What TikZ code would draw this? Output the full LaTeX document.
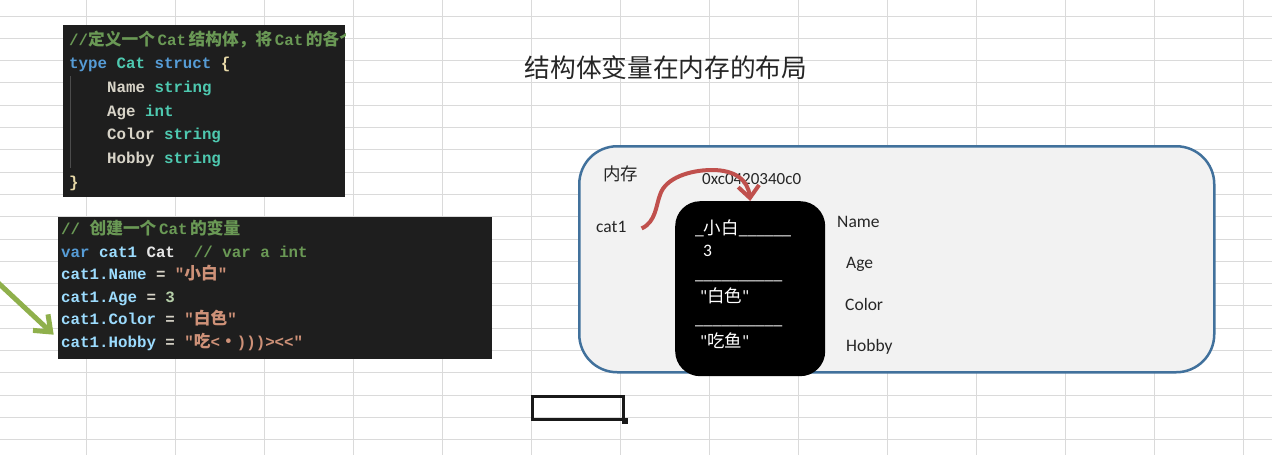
\documentclass[tikz,border=0pt]{standalone}
\usepackage{fontspec}
\setmainfont{Carlito}[Ligatures=TeXOff]
\newfontfamily\cjk{Noto Sans CJK SC}
\newfontfamily\codefont{Liberation Mono}
\usetikzlibrary{arrows.meta,positioning}
\definecolor{gridgray}{HTML}{DADADA}
\definecolor{codebg}{HTML}{1E1E1E}
\definecolor{cmtgreen}{HTML}{6A9955}
\definecolor{kwblue}{HTML}{569CD6}
\definecolor{typeteal}{HTML}{4EC9B0}
\definecolor{fieldwhite}{HTML}{D8D4C8}
\definecolor{bracegold}{HTML}{E8D9A8}
\definecolor{varblue}{HTML}{9CDCFE}
\definecolor{strorange}{HTML}{CE9178}
\definecolor{numgreen}{HTML}{B5CEA8}
\definecolor{memfill}{HTML}{F2F2F2}
\definecolor{memblue}{HTML}{41719C}
\definecolor{ptrred}{HTML}{C0504D}
\definecolor{hintgreen}{HTML}{8FB04C}
\definecolor{textdark}{HTML}{262626}
\newcommand{\zh}[1]{{\cjk #1}}
\newcommand{\zhc}[1]{{\cjk\fontsize{16.7}{19}\selectfont #1}}

\begin{document}
\begin{tikzpicture}[x=1pt,y=-1pt,
    gridline/.style={draw=gridgray,line width=1pt},
    codebox/.style={fill=codebg,inner sep=0pt,anchor=north west},
    codeline/.style={anchor=base west,inner sep=0pt,font=\codefont\bfseries\fontsize{15.8}{19}\selectfont},
    memtext/.style={anchor=base west,inner sep=0pt,text=textdark,font=\fontsize{17.5}{21}\selectfont},
    slottext/.style={anchor=base west,inner sep=0pt,text=white,font=\fontsize{17.5}{21}\selectfont},
    membox/.style={fill=memfill,draw=memblue,line width=2.5pt,rounded corners=38pt,inner sep=0pt,anchor=north west},
    slotbox/.style={fill=black,rounded corners=25pt,inner sep=0pt,anchor=north west},
    ptr/.style={draw=ptrred,line width=4pt,-{Straight Barb[length=12pt,width=21pt]}},
    hint/.style={draw=hintgreen,line width=5pt,-{Straight Barb[length=14pt,width=22pt]}},
    >=Latex]
    \fill[white] (0,0) rectangle (1272,455);
    \useasboundingbox (0,0) rectangle (1272,455);
    \foreach \i in {0,...,13} \draw[gridline] ({86+89*\i},0) -- ({86+89*\i},455);
    \foreach \j in {0,...,19} \draw[gridline] (0,{16+22.3*\j}) -- (1272,{16+22.3*\j});

    % 结构体定义
    \node[codebox,minimum width=282pt,minimum height=172pt] (code1) at (63,25) {};
    \draw[draw=black!70,line width=1pt] (70,76) -- (70,168);
    \begin{scope}
      \clip (63,25) rectangle (345,197);
      \node[codeline,text=cmtgreen] (d1) at (69,45) {//\zhc{定义一个}\,Cat\,\zhc{结构体，将}\,Cat\,\zhc{的各个}};
    \end{scope}
    \node[codeline] (d2) at (69,68) {\textcolor{kwblue}{type} \textcolor{typeteal}{Cat} \textcolor{kwblue}{struct} \textcolor{bracegold}{\{}};
    \node[codeline] (d3) at (107,92) {\textcolor{fieldwhite}{Name} \textcolor{typeteal}{string}};
    \node[codeline] (d4) at (107,116) {\textcolor{fieldwhite}{Age} \textcolor{typeteal}{int}};
    \node[codeline] (d5) at (107,139) {\textcolor{fieldwhite}{Color} \textcolor{typeteal}{string}};
    \node[codeline] (d6) at (107,163) {\textcolor{fieldwhite}{Hobby} \textcolor{typeteal}{string}};
    \node[codeline,text=bracegold] (d7) at (69,187) {\}};

    % 变量赋值
    \node[codebox,minimum width=434pt,minimum height=142pt] (code2) at (58,217) {};
    \node[codeline,text=cmtgreen] (h1) at (61,234) {// \zhc{创建一个}\,Cat\,\zhc{的变量}};
    \node[codeline] (h2) at (61,257) {\textcolor{kwblue}{var} \textcolor{varblue}{cat1} \textcolor{white!90!black}{Cat}\ \ \textcolor{cmtgreen}{// var a int}};
    \node[codeline] (h3) at (61,279) {\textcolor{varblue}{cat1.Name} \textcolor{fieldwhite}{=} \textcolor{strorange}{"\zhc{小白}"}};
    \node[codeline] (h4) at (61,302) {\textcolor{varblue}{cat1.Age} \textcolor{fieldwhite}{=} \textcolor{numgreen}{3}};
    \node[codeline] (h5) at (61,324) {\textcolor{varblue}{cat1.Color} \textcolor{fieldwhite}{=} \textcolor{strorange}{"\zhc{白色}"}};
    \node[codeline] (h6) at (61,347) {\textcolor{varblue}{cat1.Hobby} \textcolor{fieldwhite}{=} \textcolor{strorange}{"\zhc{吃}<\zhc{・})))>\kern0pt<\kern0pt<"}};
    \coordinate (hintstart) at (-6,279);
    \draw[hint,shorten >=10pt] (hintstart) -- (h6.west);

    \node[anchor=center,inner sep=0pt,text=textdark,font=\cjk\fontsize{25.7}{30}\selectfont] (title) at (666,68) {结构体变量在内存的布局};

    % 内存布局
    \node[membox,minimum width=635pt,minimum height=226pt] (memory) at (578,145) {};
    \node[slotbox,minimum width=150pt,minimum height=175pt] (slot) at (675,201) {};
    \node[memtext] (memlbl) at (603,180) {\zh{内存}};
    \node[memtext] (cat1) at (596,232) {cat1};
    \node[memtext,font=\fontsize{17}{21}\selectfont] (addr) at (702,184) {0xc0420340c0};
    \draw[ptr] ([xshift=15pt,yshift=-2pt]cat1.east) .. controls (656,222) and (656,205) .. (660,195)
      .. controls (665,178) and (690,170) .. (712,170) .. controls (735,170) and (748,180) .. (slot.north);
    \node[slottext] (v1) at (695,234) {\_\zh{小白}\_\_\_\_\_\_};
    \node[slottext] (v2) at (703,256) {3};
    \node[slottext] (v3) at (695,279) {\_\_\_\_\_\_\_\_\_\_};
    \node[slottext] (v4) at (700,302) {"\zh{白色}"};
    \node[slottext] (v5) at (695,324) {\_\_\_\_\_\_\_\_\_\_};
    \node[slottext] (v6) at (700,347) {"\zh{吃鱼}"};
    \node[memtext] (fname) at (837,227) {Name};
    \node[memtext] (fage) at (846,268) {Age};
    \node[memtext] (fcolor) at (845,310) {Color};
    \node[memtext] (fhobby) at (846,351) {Hobby};

    \node[draw=black!90,line width=2.5pt,inner sep=0pt,minimum width=91pt,minimum height=23pt,anchor=north west] (sel) at (531,395) {};
    \node[fill=black!90,inner sep=0pt,minimum size=6pt] (handle) at (sel.south east) {};
  \end{tikzpicture}
\end{document}
